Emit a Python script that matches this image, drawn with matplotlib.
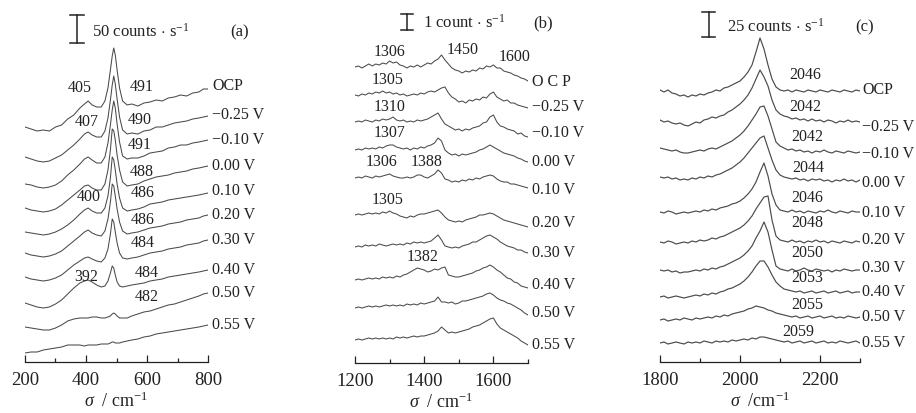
import numpy as np
import matplotlib.pyplot as plt

plt.rcParams['font.family'] = ['Liberation Serif', 'DejaVu Serif']
plt.rcParams['mathtext.fontset'] = 'custom'
plt.rcParams['mathtext.rm'] = 'Liberation Serif'
plt.rcParams['mathtext.it'] = 'Liberation Serif:italic'

# ---- data -------------------------------------------------------------
potentials = ['OCP', '\u22120.25 V', '\u22120.10 V', '0.00 V', '0.10 V',
              '0.20 V', '0.30 V', '0.40 V', '0.50 V', '0.55 V']

# (a) 200-800 cm-1, stacked intensities (bar = 50 counts/s)
sigma_a = [200, 220, 240, 260, 280, 300, 320, 340, 360, 380, 395, 407, 420,
           435, 450, 462, 472, 480, 486, 491, 496, 502, 510, 520, 535, 550,
           570, 590, 610, 630, 650, 670, 690, 710, 730, 750, 770, 785, 800]
a_spectra = [
    [235, 233, 231, 232, 231, 235, 237, 243, 247, 254, 258, 261, 257, 255, 255, 261, 274, 292, 306, 314,
     307, 292, 274, 261, 257, 258, 256, 259, 260, 262, 261, 264, 265, 267, 266, 269, 270, 273, 273],
    [205, 203, 201, 200, 201, 204, 207, 212, 217, 223, 228, 230, 227, 225, 225, 231, 244, 262, 277, 286,
     278, 263, 245, 232, 228, 229, 228, 231, 232, 235, 235, 237, 239, 240, 241, 243, 244, 245, 246],
    [178, 177, 175, 174, 175, 177, 181, 187, 192, 198, 203, 205, 202, 199, 199, 205, 219, 237, 252, 261,
     254, 238, 220, 206, 203, 204, 204, 206, 209, 210, 211, 214, 215, 217, 217, 219, 220, 221, 222],
    [154, 152, 151, 150, 151, 153, 157, 162, 167, 172, 176, 177, 174, 172, 172, 178, 192, 212, 233, 231,
     222, 207, 192, 180, 176, 177, 178, 181, 183, 185, 186, 187, 189, 190, 191, 193, 194, 195, 196],
    [130, 129, 128, 127, 128, 130, 133, 137, 142, 148, 152, 154, 151, 149, 149, 154, 166, 184, 205, 202,
     192, 178, 164, 154, 151, 152, 153, 155, 158, 159, 160, 162, 163, 164, 165, 166, 167, 168, 169],
    [109, 107, 106, 105, 106, 108, 111, 116, 121, 126, 130, 132, 129, 127, 126, 131, 143, 160, 178, 176,
     166, 153, 140, 131, 128, 129, 130, 132, 134, 135, 136, 138, 139, 140, 142, 143, 144, 146, 147],
    [85, 83, 82, 81, 82, 84, 87, 92, 97, 101, 104, 105, 103, 101, 100, 104, 113, 128, 143, 140,
     130, 119, 109, 104, 103, 104, 105, 107, 109, 110, 111, 113, 114, 115, 117, 118, 119, 121, 122],
    [59, 57, 55, 54, 55, 58, 62, 68, 74, 79, 81, 82, 80, 77, 75, 76, 81, 89, 96, 94,
     87, 80, 76, 75, 76, 77, 78, 79, 81, 82, 83, 85, 86, 87, 88, 89, 90, 91, 92],
    [35, 34, 33, 32, 32, 34, 37, 41, 43, 44, 44, 44, 45, 45, 44, 44, 45, 46, 48, 49,
     48, 46, 44, 44, 44, 46, 48, 50, 51, 53, 55, 57, 58, 60, 62, 64, 66, 68, 69],
    [9, 10, 10, 12, 13, 14, 15, 17, 17, 17, 16, 17, 17, 17, 18, 18, 18, 19, 20, 20,
     19, 19, 19, 20, 21, 22, 23, 25, 26, 28, 29, 30, 31, 32, 33, 34, 35, 36, 37],
]
a_peaks = [('405', 380, 274), ('491', 584, 275), ('407', 403, 240), ('490', 577, 242),
           ('491', 577, 217), ('488', 584, 190), ('400', 410, 165), ('486', 587, 169),
           ('486', 587, 142), ('484', 587, 119), ('392', 400, 85), ('484', 600, 89),
           ('482', 600, 65)]

# (b) 1200-1700 cm-1 (bar = 1 count/s)
sigma_b = np.arange(1200, 1701, 10)
b_spectra = [
    [296, 297, 295, 297, 299, 297, 299, 298, 300, 299, 302, 300, 301, 298, 297, 295, 297, 296, 298, 296,
     298, 300, 299, 302, 304, 308, 303, 299, 295, 293, 292, 290, 292, 291, 293, 292, 295, 294, 297, 296,
     298, 295, 295, 292, 291, 290, 288, 287, 285, 284, 282],
    [268, 267, 269, 268, 270, 269, 271, 270, 272, 270, 271, 269, 270, 268, 269, 267, 268, 269, 268, 270,
     269, 271, 272, 271, 273, 275, 276, 270, 266, 264, 261, 262, 260, 263, 262, 264, 263, 266, 265, 269,
     271, 266, 264, 262, 263, 260, 260, 258, 257, 256, 255],
    [241, 242, 241, 243, 242, 241, 243, 242, 244, 243, 244, 246, 243, 242, 243, 241, 242, 241, 243, 242,
     243, 244, 246, 248, 250, 244, 239, 237, 235, 233, 234, 232, 234, 233, 235, 236, 237, 240, 241, 246,
     248, 241, 237, 236, 234, 233, 232, 229, 230, 227, 226],
    [213, 214, 213, 215, 214, 215, 214, 216, 215, 217, 218, 218, 216, 215, 214, 215, 213, 215, 214, 216,
     215, 217, 218, 220, 225, 222, 213, 210, 208, 209, 207, 209, 208, 209, 210, 211, 213, 214, 216, 218,
     216, 214, 212, 210, 209, 208, 207, 205, 204, 202, 201],
    [185, 186, 185, 187, 186, 185, 187, 186, 187, 188, 189, 187, 186, 185, 185, 186, 185, 186, 188, 188,
     186, 185, 187, 189, 193, 190, 184, 183, 181, 182, 181, 183, 182, 184, 183, 185, 184, 186, 187, 188,
     187, 184, 182, 181, 181, 179, 179, 178, 177, 176, 175],
    [148, 149, 148, 149, 150, 149, 150, 149, 151, 150, 152, 150, 149, 147, 146, 145, 147, 146, 148, 149,
     149, 150, 151, 152, 153, 150, 146, 143, 142, 141, 142, 141, 143, 144, 145, 146, 148, 148, 149, 150,
     149, 147, 145, 143, 142, 141, 140, 139, 138, 137, 136],
    [116, 117, 116, 118, 117, 118, 117, 119, 118, 117, 118, 119, 118, 119, 118, 120, 119, 121, 120, 121,
     120, 121, 122, 125, 128, 123, 117, 116, 115, 116, 115, 117, 118, 119, 121, 121, 123, 125, 127, 128,
     126, 124, 121, 119, 117, 116, 115, 113, 113, 111, 110],
    [83, 84, 83, 84, 85, 84, 85, 84, 86, 85, 86, 85, 87, 86, 88, 89, 91, 93, 95, 94,
     93, 91, 92, 94, 93, 95, 96, 88, 87, 86, 86, 87, 88, 89, 90, 92, 93, 95, 96, 98,
     96, 93, 91, 88, 85, 84, 81, 80, 77, 76, 75],
    [55, 56, 55, 56, 57, 56, 57, 56, 57, 58, 57, 58, 57, 58, 57, 59, 58, 59, 58, 60,
     59, 60, 61, 62, 66, 61, 61, 60, 61, 59, 60, 62, 62, 63, 64, 65, 66, 67, 69, 70,
     68, 65, 63, 62, 60, 59, 57, 55, 53, 50, 48],
    [23, 24, 23, 24, 25, 24, 25, 24, 25, 24, 25, 24, 26, 25, 26, 25, 26, 27, 26, 27,
     27, 28, 29, 30, 32, 36, 33, 30, 31, 30, 31, 32, 33, 34, 36, 37, 38, 40, 42, 44,
     45, 39, 35, 33, 31, 29, 27, 25, 22, 20, 18],
]
b_peaks = [('1306', 1301, 311), ('1450', 1512, 313), ('1600', 1662, 306),
           ('1305', 1295, 283), ('1310', 1301, 256), ('1307', 1301, 230),
           ('1306', 1278, 201), ('1388', 1408, 201), ('1305', 1295, 163),
           ('1382', 1396, 106)]

# (c) 1800-2300 cm-1 (bar = 25 counts/s)
sigma_c = np.arange(1800, 2301, 10)
c_spectra = [
    [272, 270, 272, 269, 268, 266, 267, 265, 267, 266, 268, 267, 269, 270, 272, 271, 274, 275, 277, 279,
     281, 285, 290, 297, 310, 324, 313, 297, 283, 275, 272, 271, 272, 270, 272, 271, 270, 272, 271, 270,
     272, 271, 270, 272, 271, 270, 272, 271, 270, 272, 271],
    [242, 240, 241, 239, 238, 239, 237, 236, 238, 240, 239, 242, 243, 245, 244, 246, 247, 250, 252, 255,
     258, 262, 267, 274, 283, 292, 285, 276, 262, 252, 248, 246, 245, 243, 244, 242, 243, 241, 243, 241,
     242, 240, 242, 241, 239, 241, 240, 242, 240, 241, 240],
    [214, 213, 212, 211, 212, 210, 209, 209, 210, 211, 212, 211, 213, 214, 213, 215, 217, 219, 221, 224,
     227, 231, 236, 242, 248, 255, 256, 246, 233, 220, 216, 214, 212, 213, 211, 212, 210, 211, 209, 211,
     210, 212, 210, 209, 211, 210, 209, 211, 210, 209, 210],
    [185, 184, 185, 183, 184, 182, 183, 182, 184, 183, 185, 184, 186, 185, 187, 188, 190, 192, 194, 197,
     200, 204, 209, 214, 219, 224, 226, 214, 202, 192, 187, 185, 184, 183, 184, 182, 183, 181, 183, 182,
     183, 181, 182, 180, 182, 181, 183, 181, 182, 180, 182],
    [150, 149, 151, 150, 148, 149, 150, 149, 150, 151, 150, 152, 151, 153, 152, 154, 155, 156, 158, 159,
     161, 164, 168, 173, 180, 190, 199, 186, 168, 157, 152, 151, 150, 152, 150, 151, 149, 151, 150, 149,
     151, 150, 152, 150, 149, 151, 150, 149, 151, 150, 150],
    [120, 119, 121, 120, 118, 119, 120, 119, 121, 120, 122, 121, 122, 124, 123, 125, 126, 128, 130, 132,
     134, 137, 141, 146, 153, 159, 165, 166, 142, 126, 122, 121, 120, 122, 120, 121, 119, 121, 120, 122,
     120, 121, 119, 121, 120, 119, 121, 120, 119, 121, 120],
    [92, 91, 92, 90, 91, 89, 90, 90, 91, 92, 91, 93, 92, 94, 93, 95, 96, 98, 100, 102,
     104, 107, 111, 116, 124, 131, 140, 130, 112, 96, 93, 92, 91, 93, 91, 92, 94, 92, 91, 93,
     92, 91, 92, 90, 92, 91, 93, 92, 91, 92, 92],
    [65, 66, 64, 65, 66, 65, 64, 65, 66, 67, 66, 68, 67, 69, 68, 70, 71, 73, 74, 76,
     78, 81, 85, 90, 96, 101, 101, 95, 87, 80, 76, 73, 72, 71, 70, 71, 69, 70, 71, 69,
     70, 71, 69, 70, 71, 69, 70, 71, 69, 70, 70],
    [42, 43, 41, 42, 43, 42, 44, 43, 42, 44, 43, 44, 45, 44, 46, 45, 47, 46, 48, 49,
     50, 51, 53, 54, 56, 55, 54, 52, 51, 49, 48, 47, 46, 45, 46, 44, 45, 46, 44, 45,
     46, 44, 45, 46, 44, 45, 44, 46, 45, 44, 45],
    [19, 20, 18, 19, 20, 19, 18, 20, 19, 20, 19, 21, 20, 19, 21, 20, 21, 20, 22, 21,
     22, 23, 22, 24, 23, 25, 25, 24, 23, 22, 21, 20, 21, 19, 20, 21, 19, 20, 21, 19,
     20, 21, 19, 20, 19, 21, 20, 19, 20, 21, 19],
]
c_peaks = [('2046', 2162, 287), ('2042', 2162, 255), ('2042', 2168, 225),
           ('2044', 2170, 194), ('2046', 2168, 164), ('2048', 2168, 139),
           ('2050', 2168, 109), ('2053', 2168, 84), ('2055', 2168, 57),
           ('2059', 2145, 30)]

# ---- layout ------------------------------------------------------------
W, H = 916, 413
INK = '#222222'
LINE = '#4a4a4a'
fig = plt.figure(figsize=(W / 100, H / 100), dpi=100)


def panel(left, right, axis_y, xlim, major, minor, xlabel):
    ax = fig.add_axes([left / W, (H - axis_y) / H, (right - left) / W, axis_y / H])
    ax.set_xlim(*xlim)
    ax.set_ylim(0, axis_y)
    for s in ('left', 'right', 'top'):
        ax.spines[s].set_visible(False)
    ax.spines['bottom'].set_color(INK)
    ax.spines['bottom'].set_linewidth(0.9)
    ax.set_yticks([])
    ax.set_xticks(major)
    ax.set_xticks(minor, minor=True)
    ax.tick_params(which='major', direction='in', length=5, width=0.9, color=INK,
                   labelsize=13.5, pad=7, labelcolor=INK)
    ax.tick_params(which='minor', direction='in', length=3, width=0.9, color=INK)
    ax.set_xlabel(xlabel, fontsize=13, color=INK, labelpad=2)
    ax.patch.set_visible(False)
    return ax


def scale_bar(ax, x, y0, y1, dx, text, tx, ty, tag, gx):
    ax.plot([x, x], [y0, y1], color=INK, lw=1.1, clip_on=False)
    ax.plot([x - dx, x + dx], [y0, y0], color=INK, lw=1.1, clip_on=False)
    ax.plot([x - dx, x + dx], [y1, y1], color=INK, lw=1.1, clip_on=False)
    ax.text(tx, ty, text, fontsize=12, color=INK, ha='left', va='center')
    ax.text(gx, ty, tag, fontsize=12, color=INK, ha='center', va='center')


# (a)
ax_a = panel(25, 208, 362, (200, 800), [200, 400, 600, 800], [300, 500, 700],
             r'$\sigma$  / cm$^{-1}$')
for y in a_spectra:
    ax_a.plot(sigma_a, y, color=LINE, lw=0.75)
for lab, ly in zip(potentials, [276, 247, 222, 196, 171, 147, 122, 92, 69, 37]):
    ax_a.text(813, ly, lab, fontsize=11.5, color=INK, va='center', ha='left')
for t, x, y in a_peaks:
    ax_a.text(x, y, t, fontsize=11.5, color=INK, ha='center', va='center')
scale_bar(ax_a, 371, 319, 347, 22, r'50 counts $\cdot$ s$^{-1}$', 420, 330, '(a)', 905)

# (b)
ax_b = panel(355, 528, 363, (1200, 1700), [1200, 1400, 1600], [1300, 1500, 1700],
             r'$\sigma$  / cm$^{-1}$')
for y in b_spectra:
    ax_b.plot(sigma_b, y, color=LINE, lw=0.75)
b_pot = ['O C P'] + potentials[1:]
for lab, ly in zip(b_pot, [281, 256, 230, 201, 173, 140, 110, 78, 50, 18]):
    ax_b.text(1712, ly, lab, fontsize=11.5, color=INK, va='center', ha='left')
for t, x, y in b_peaks:
    ax_b.text(x, y, t, fontsize=11.5, color=INK, ha='center', va='center')
scale_bar(ax_b, 1350, 333, 349, 18, r'$\mathit{1}$ count $\cdot$ s$^{-1}$', 1397, 340, '(b)', 1743)

# (c)
ax_c = panel(660, 860, 362, (1800, 2300), [1800, 2000, 2200], [1900, 2100, 2300],
             r'$\sigma$  /cm$^{-1}$')
for y in c_spectra:
    ax_c.plot(sigma_c, y, color=LINE, lw=0.85)
for lab, ly in zip(potentials, [272, 235, 208, 179, 149, 122, 94, 70, 45, 19]):
    ax_c.text(2305, ly, lab, fontsize=11.5, color=INK, va='center', ha='left')
for t, x, y in c_peaks:
    ax_c.text(x, y, t, fontsize=11.5, color=INK, ha='center', va='center')
scale_bar(ax_c, 1922, 325, 350, 16, r'25 counts $\cdot$ s$^{-1}$', 1967, 335, '(c)', 2312)

fig.savefig('out.png', dpi=100)
